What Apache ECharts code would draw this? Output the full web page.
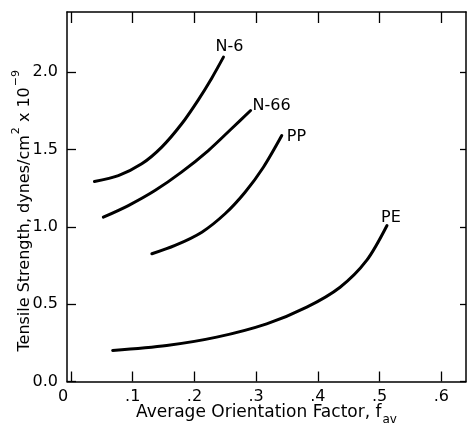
<!DOCTYPE html>
<html>
<head>
<meta charset="utf-8">
<script src="https://cdn.jsdelivr.net/npm/echarts@6/dist/echarts.min.js"></script>
<style>html,body{margin:0;padding:0;background:#fff;}#c{width:467px;height:428px;}</style>
</head>
<body>
<div id="c"></div>
<script>
// Data
const xTicks = [0, 0.1, 0.2, 0.3, 0.4, 0.5, 0.6];
const yTicks = [0, 0.5, 1.0, 1.5, 2.0];

const n6X  = [0.038, 0.0767, 0.1146, 0.147, 0.1794, 0.2063, 0.228, 0.247];
const n6Y  = [1.294, 1.332, 1.408, 1.516, 1.667, 1.822, 1.962, 2.098];

const n66X = [0.0524, 0.0929, 0.136, 0.179, 0.2225, 0.260, 0.291];
const n66Y = [1.063, 1.138, 1.235, 1.354, 1.494, 1.635, 1.753];

const ppX  = [0.131, 0.1686, 0.212, 0.2496, 0.282, 0.3117, 0.3415];
const ppY  = [0.826, 0.880, 0.966, 1.085, 1.2245, 1.386, 1.591];

const peX  = [0.0675, 0.155, 0.236, 0.317, 0.382, 0.436, 0.479, 0.512];
const peY  = [0.2005, 0.233, 0.287, 0.373, 0.481, 0.610, 0.783, 1.009];

const seriesNames = ['N-6', 'N-66', 'PP', 'PE'];

const FONT = '"DejaVu Sans", sans-serif';

function pts(xs, ys, labelCfg) {
  return xs.map((x, i) => {
    const d = { value: [x, ys[i]] };
    if (i === xs.length - 1) {
      d.label = Object.assign({ show: true, color: '#000', fontSize: 16, fontFamily: FONT }, labelCfg);
    }
    return d;
  });
}

function mk(name, data) {
  return {
    name: name, type: 'line', data: data, smooth: 0.3,
    showSymbol: true, symbol: 'circle', symbolSize: 0,
    lineStyle: { color: '#000', width: 3, cap: 'round' },
    itemStyle: { color: '#000' },
    label: { show: false, formatter: () => name },
    silent: true, animation: false
  };
}

const chart = echarts.init(document.getElementById('c'), null, { renderer: 'canvas' });

const xMin = -0.0065, xMax = 0.640, yMin = 0, yMax = 2.39;

chart.setOption({
  animation: false,
  backgroundColor: '#fff',
  textStyle: { fontFamily: FONT },
  grid: { left: 67, right: 1, top: 12, bottom: 46.5, containLabel: false, outerBoundsMode: 'none' },
  xAxis: [{
    type: 'value', position: 'bottom', min: xMin, max: xMax,
    splitLine: { show: false },
    axisLine: { show: true, onZero: false, lineStyle: { color: '#000', width: 1.5 } },
    axisTick: { show: true, inside: true, length: 10, customValues: xTicks, lineStyle: { color: '#000', width: 1.3 } },
    axisLabel: {
      customValues: xTicks, color: '#000', fontSize: 16, fontFamily: FONT, margin: 7,
      formatter: v => (Math.abs(v) < 1e-9 ? '{z|0}' : String(v.toFixed(1)).replace(/^0/, '')),
      rich: { z: { fontSize: 16, color: '#000', fontFamily: FONT, padding: [0, 16, 0, 0] } }
    },
    name: '{a|Average Orientation Factor, f}{b|av}',
    nameLocation: 'middle', nameGap: 20, nameMoveOverlap: false,
    nameTextStyle: {
      rich: {
        a: { fontSize: 17, color: '#000', fontFamily: FONT, lineHeight: 20, verticalAlign: 'bottom' },
        b: { fontSize: 12, color: '#000', fontFamily: FONT, lineHeight: 20, verticalAlign: 'bottom', padding: [0, 0, -4, 1] }
      }
    }
  }, {
    type: 'value', position: 'top', min: xMin, max: xMax,
    splitLine: { show: false },
    axisLine: { show: true, onZero: false, lineStyle: { color: '#000', width: 1.5 } },
    axisTick: { show: true, inside: true, length: 11, customValues: xTicks, lineStyle: { color: '#000', width: 1.3 } },
    axisLabel: { show: false }
  }],
  yAxis: [{
    type: 'value', position: 'left', min: yMin, max: yMax,
    splitLine: { show: false },
    axisLine: { show: true, onZero: false, lineStyle: { color: '#000', width: 1.5 } },
    axisTick: { show: true, inside: true, length: 9, customValues: yTicks, lineStyle: { color: '#000', width: 1.3 } },
    axisLabel: {
      customValues: yTicks, color: '#000', fontSize: 16, fontFamily: FONT, margin: 9,
      padding: [3, 0, 0, 0],
      formatter: v => v.toFixed(1)
    },
    name: '{a|Tensile Strength, dynes/cm}{s|2}{a| x 10}{s|−9}',
    nameLocation: 'middle', nameGap: 34, nameMoveOverlap: false,
    nameTextStyle: {
      padding: [0, 28, 0, 0],
      rich: {
        a: { fontSize: 16, color: '#000', fontFamily: FONT, lineHeight: 22, verticalAlign: 'bottom' },
        s: { fontSize: 11, color: '#000', fontFamily: FONT, lineHeight: 22, verticalAlign: 'top', padding: [0, 0, 0, 1] }
      }
    }
  }, {
    type: 'value', position: 'right', min: yMin, max: yMax,
    splitLine: { show: false },
    axisLine: { show: true, onZero: false, lineStyle: { color: '#000', width: 1.5 } },
    axisTick: { show: true, inside: true, length: 6, customValues: yTicks, lineStyle: { color: '#000', width: 1.3 } },
    axisLabel: { show: false }
  }],
  series: [
    mk(seriesNames[0], pts(n6X, n6Y, { position: 'top', distance: 5, offset: [6, 3] })),
    mk(seriesNames[1], pts(n66X, n66Y, { position: 'right', distance: 5, offset: [-3, -5] })),
    mk(seriesNames[2], pts(ppX, ppY, { position: 'right', distance: 5, offset: [0, 1] })),
    mk(seriesNames[3], pts(peX, peY, { position: 'top', distance: 5, offset: [4, 5] }))
  ]
});
</script>
</body>
</html>
